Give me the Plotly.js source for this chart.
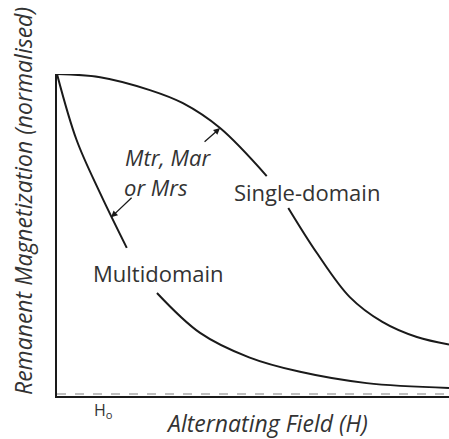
<!DOCTYPE html>
<html>
<head>
<meta charset="utf-8">
<script src="https://cdn.plot.ly/plotly-3.0.1.min.js"></script>
<style>html,body{margin:0;padding:0;background:#fff;}#chart{width:449px;height:439px;}</style>
</head>
<body>
<div id="chart"></div>
<script>
// Normalised alternating field (x) and remanent magnetization (y)
const sdField = [0, 0.11, 0.237, 0.32, 0.416, 0.535, null, 0.59, 0.663, 0.747, 0.83, 0.918, 1.0];
const sdMag   = [1, 0.99, 0.95, 0.91, 0.832, 0.683, null, 0.584, 0.444, 0.307, 0.23, 0.183, 0.16];
const mdField = [0, 0.05, 0.11, 0.178, null, 0.255, 0.365, 0.49, 0.62, 0.79, 1.0];
const mdMag   = [1, 0.795, 0.63, 0.46, null, 0.32, 0.196, 0.12, 0.075, 0.04, 0.025];
const baseField = [0, 1];
const baseMag = [0.006, 0.006];

const seriesLabels = ["Single-domain", "Multidomain"];
const arrowLabel = ["Mtr, Mar", "or Mrs"];
const xTitle = "Alternating Field (H)";
const yTitle = "Remanent Magnetization (normalised)";
const tickLabel = "H<sub>o</sub>";

const lineStyle = {color: '#1a1a1a', width: 2, shape: 'spline', smoothing: 1.0};

const traces = [
  {x: sdField, y: sdMag, mode: 'lines', line: lineStyle, connectgaps: false, hoverinfo: 'skip'},
  {x: mdField, y: mdMag, mode: 'lines', line: lineStyle, connectgaps: false, hoverinfo: 'skip'},
  {x: baseField, y: baseMag, mode: 'lines', line: {color: '#aaa', width: 1.5, dash: 'dash'}, hoverinfo: 'skip'}
];

const fnt = {family: 'Open Sans, sans-serif', size: 22, color: '#333'};
const ifnt = {family: 'Open Sans, sans-serif', size: 22, color: '#333', style: 'italic'};
const tfnt = {family: 'Open Sans, sans-serif', size: 23, color: '#333', style: 'italic'};

function px(xp){return (xp-57)/392;}
function py(yp){return (396-yp)/322;}

const C = {xanchor: 'center', yanchor: 'middle', showarrow: false};

const layout = {
  width: 449, height: 439,
  margin: {l: 57, r: 0, t: 74, b: 43},
  paper_bgcolor: '#fff', plot_bgcolor: '#fff',
  showlegend: false,
  xaxis: {range: [0, 1], showline: true, linecolor: '#1a1a1a', linewidth: 2, showgrid: false, zeroline: false, showticklabels: false, ticks: '', fixedrange: true},
  yaxis: {range: [0, 1], showline: true, linecolor: '#1a1a1a', linewidth: 2, showgrid: false, zeroline: false, showticklabels: false, ticks: '', fixedrange: true},
  annotations: [
    Object.assign({x: 0.638, y: 0.634, xref: 'x', yref: 'y', text: seriesLabels[0], font: fnt}, C),
    Object.assign({x: 0.258, y: 0.382, xref: 'x', yref: 'y', text: seriesLabels[1], font: fnt}, C),
    Object.assign({x: 0.283, y: 0.742, xref: 'x', yref: 'y', text: arrowLabel[0], font: ifnt}, C),
    Object.assign({x: 0.253, y: 0.649, xref: 'x', yref: 'y', text: arrowLabel[1], font: ifnt}, C),
    {x: 0.416, y: 0.832, xref: 'x', yref: 'y', text: '', showarrow: true, arrowhead: 2, arrowsize: 1, arrowwidth: 1.3, arrowcolor: '#1a1a1a', ax: -17, ay: 15},
    {x: 0.138, y: 0.555, xref: 'x', yref: 'y', text: '', showarrow: true, arrowhead: 2, arrowsize: 1, arrowwidth: 1.3, arrowcolor: '#1a1a1a', ax: 22, ay: -21},
    Object.assign({x: px(103), y: py(410), xref: 'paper', yref: 'paper', text: tickLabel, font: {family: 'Open Sans, sans-serif', size: 16, color: '#333'}}, C),
    Object.assign({x: px(267), y: py(423), xref: 'paper', yref: 'paper', text: xTitle, font: tfnt}, C),
    Object.assign({x: px(23), y: py(201), xref: 'paper', yref: 'paper', text: yTitle, textangle: -90, font: tfnt}, C)
  ]
};

Plotly.newPlot('chart', traces, layout, {displayModeBar: false, staticPlot: true});
</script>
</body>
</html>
